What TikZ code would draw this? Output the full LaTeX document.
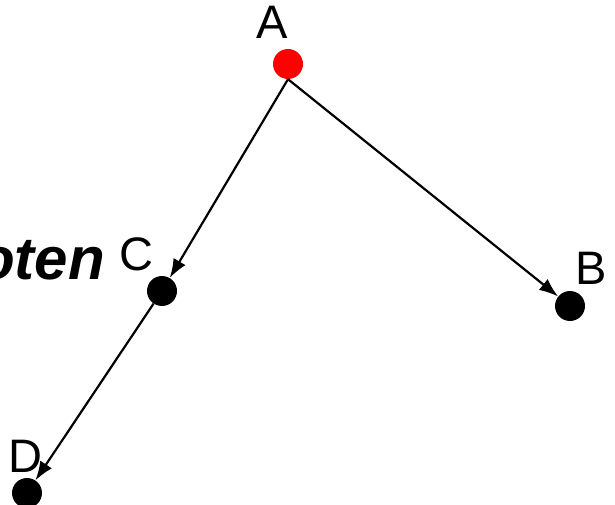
\documentclass[tikz,border=0pt]{standalone}
\usepackage{fontspec}
\setmainfont{Liberation Sans}
\usetikzlibrary{arrows.meta}
\begin{document}
\begin{tikzpicture}[x=1pt,y=1pt,
  vertex/.style={circle,fill=black,minimum size=30pt,inner sep=0pt},
  lbl/.style={font=\fontsize{47}{47}\selectfont,inner sep=0pt},
  edge/.style={line width=2.2pt,-{Latex[length=19pt,width=14pt]}}]
\clip (0,0) rectangle (615,-505);
\useasboundingbox (0,0) rectangle (615,-505);
\node[vertex,fill=red] (A) at (288,-64) {};
\node[vertex] (C) at (162,-291) {};
\node[vertex] (B) at (570,-306) {};
\node[vertex] (D) at (27,-493) {};
\node[lbl] (la) at (272,-22) {A};
\node[lbl] (lc) at (136,-254) {C};
\node[lbl] (lb) at (591,-268) {B};
\node[lbl] (ld) at (25,-456) {D};
\node[font=\fontsize{60}{60}\selectfont\bfseries\itshape,inner sep=0pt,anchor=base east] (kn) at (105,-279) {Knoten};
\draw[edge] (A.south) -- (B);
\draw[edge] (A.south) -- (C);
\draw[edge] (C) -- (D);
\end{tikzpicture}
\end{document}
